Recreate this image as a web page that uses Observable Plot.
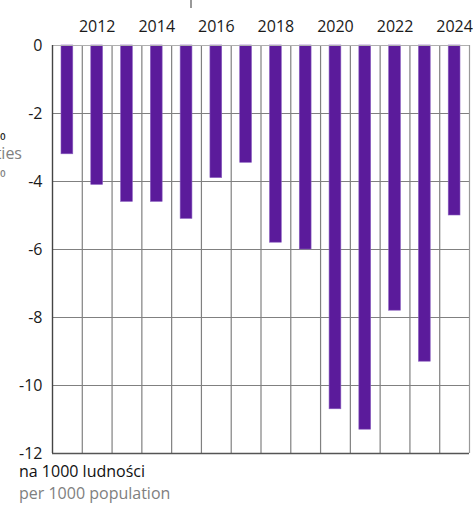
<!DOCTYPE html>
<html>
<head>
<meta charset="utf-8">
<script src="https://cdn.jsdelivr.net/npm/d3@7"></script>
<script src="https://cdn.jsdelivr.net/npm/@observablehq/plot@0.6"></script>
<style>
  html, body { margin: 0; padding: 0; background: #fff; }
  body { width: 473px; height: 505px; overflow: hidden; position: relative; font-family: "Open Sans", sans-serif; }
  #chart svg { display: block; }
  .cap { margin-top: -2px; padding-left: 19px; font-size: 16px; line-height: 22px; }
  .cap .pl { color: #111; }
  .cap .en { color: #808080; }
  .frag { position: absolute; font-size: 16px; line-height: 16px; white-space: nowrap; text-align: right; }
</style>
</head>
<body>
<div id="chart"></div>
<div class="cap">
  <div class="pl">na 1000 ludności</div>
  <div class="en">per 1000 population</div>
</div>
<div class="frag" style="right:467px; top:126px; color:#222;">w ‰</div>
<div class="frag" style="right:451px; top:145px; color:#808080;">cities</div>
<div class="frag" style="right:467px; top:163px; color:#808080;">in ‰</div>
<div style="position:absolute; left:190px; top:0; width:1.5px; height:8px; background:#999;"></div>
<script>
const years = [2011, 2012, 2013, 2014, 2015, 2016, 2017, 2018, 2019, 2020, 2021, 2022, 2023, 2024];
const values = [-3.2, -4.1, -4.6, -4.6, -5.1, -3.9, -3.45, -5.8, -6.0, -10.7, -11.3, -7.8, -9.3, -5.0];
const yTicks = [0, -2, -4, -6, -8, -10, -12];
const xTickYears = [2012, 2014, 2016, 2018, 2020, 2022, 2024];

const data = years.map((year, i) => ({year, value: values[i]}));
const boundaries = years.slice(0, -1).map(y => y + 0.5);

const chart = Plot.plot({
  width: 473,
  height: 462,
  marginTop: 45,
  marginBottom: 9,
  marginLeft: 52,
  marginRight: 4,
  style: {fontFamily: "Open Sans, sans-serif", fontSize: "16px", color: "#1a1a1a", background: "#fff", overflow: "visible"},
  x: {domain: [2010.5, 2024.5], axis: null},
  y: {domain: [-12, 0], axis: null},
  marks: [
    Plot.ruleY(yTicks.filter(d => d !== 0 && d !== -12), {stroke: "#808080", strokeWidth: 1.2}),
    Plot.ruleX(boundaries, {stroke: "#808080", strokeWidth: 1.2}),
    Plot.rectY(data, {
      x1: d => d.year - 0.5, x2: d => d.year + 0.5, y1: 0, y2: "value",
      insetLeft: 9, insetRight: 9,
      fill: "#5b1b9b", stroke: "#8a5fc0", strokeWidth: 0.6
    }),
    Plot.ruleY([0], {stroke: "#b0b0b0", strokeWidth: 1.2}),
    Plot.ruleY([-12], {stroke: "#555", strokeWidth: 1.4}),
    Plot.ruleX([2010.5], {stroke: "#444", strokeWidth: 1.4}),
    Plot.ruleX([2024.5], {stroke: "#999", strokeWidth: 1.2}),
    Plot.axisY(yTicks, {anchor: "left", label: null, tickSize: 0, tickPadding: 10, tickFormat: d => String(d).replace("−", "-"), fontSize: 16, fill: "#1a1a1a"}),
    Plot.axisX(xTickYears, {anchor: "top", label: null, tickSize: 0, tickPadding: 14, tickFormat: d => String(d), fontSize: 16, fill: "#1a1a1a"})
  ]
});
document.getElementById("chart").appendChild(chart);
</script>
</body>
</html>
